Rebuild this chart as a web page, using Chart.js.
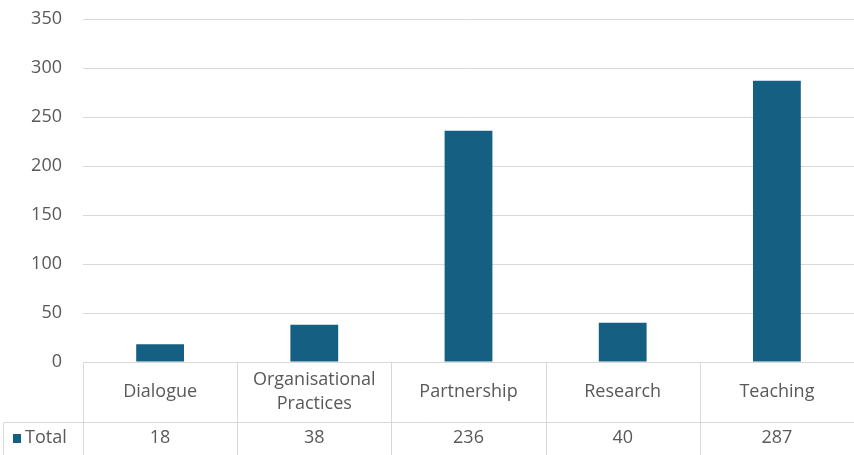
<!DOCTYPE html>
<html>
<head>
  <meta charset="UTF-8">
  <title>Total by Category</title>
  <script src="https://cdn.jsdelivr.net/npm/chart.js"></script>
  <style>
    html, body { margin: 0; padding: 0; background: #fff; }
  </style>
</head>
<body>
  <canvas id="chart" width="854" height="455"></canvas>

  <script>
    // data
    const categories = ['Dialogue', ['Organisational', 'Practices'], 'Partnership', 'Research', 'Teaching'];
    const totals = [18, 38, 236, 40, 287];
    const seriesName = 'Total';
    const yTicks = [0, 50, 100, 150, 200, 250, 300, 350];

    const barColor = '#156082';
    const textColor = '#595959';
    const lineColor = '#d9d9d9';
    const fontFamily = "'Open Sans', sans-serif";

    // draws the data table under the plot (borders, legend key and the Total row)
    const dataTable = {
      id: 'dataTable',
      afterDraw(chart) {
        const ctx = chart.ctx;
        const x = chart.scales.x;
        const area = chart.chartArea;
        const rowTop = area.bottom;
        const rowMid = 422.5;
        const rowEnd = chart.height;
        const left = 3.5;

        ctx.save();
        ctx.strokeStyle = lineColor;
        ctx.lineWidth = 1;
        ctx.beginPath();
        // row separator
        ctx.moveTo(left, rowMid);
        ctx.lineTo(area.right, rowMid);
        // left edge of the legend cell
        ctx.moveTo(left, rowMid);
        ctx.lineTo(left, rowEnd);
        // column borders
        for (let i = 0; i <= totals.length; i++) {
          let px;
          if (i < totals.length) px = x.getPixelForValue(i) - (x.getPixelForValue(1) - x.getPixelForValue(0)) / 2;
          else px = area.right - 0.5;
          px = Math.round(px) + 0.5;
          ctx.moveTo(px, rowTop);
          ctx.lineTo(px, rowEnd);
        }
        ctx.stroke();

        // legend key + series name
        ctx.fillStyle = barColor;
        ctx.fillRect(13, 434, 8, 9);
        ctx.fillStyle = textColor;
        ctx.font = '18px ' + fontFamily;
        ctx.textBaseline = 'middle';
        ctx.textAlign = 'left';
        ctx.fillText(seriesName, 25, 438);

        // values
        ctx.textAlign = 'center';
        totals.forEach((v, i) => {
          ctx.fillText(String(v), x.getPixelForValue(i), 438);
        });
        ctx.restore();
      }
    };

    new Chart(document.getElementById('chart'), {
      type: 'bar',
      data: {
        labels: categories,
        datasets: [{
          label: seriesName,
          data: totals,
          backgroundColor: barColor,
          barPercentage: 0.31,
          categoryPercentage: 1
        }]
      },
      options: {
        responsive: false,
        animation: false,
        layout: { padding: { top: 19, right: 0, left: 0, bottom: 0 } },
        plugins: {
          legend: { display: false },
          tooltip: { enabled: false }
        },
        scales: {
          x: {
            grid: { display: false },
            border: { color: lineColor },
            ticks: {
              color: textColor,
              font: { family: fontFamily, size: 18, lineHeight: 1.35 },
              padding: 10,
              crossAlign: 'center',
              maxRotation: 0,
              autoSkip: false
            },
            afterFit(scale) {
              scale.height = 93;
              scale.paddingLeft = 0;
              scale.paddingRight = 0;
            }
          },
          y: {
            min: 0,
            max: 350,
            afterBuildTicks(scale) { scale.ticks = yTicks.map(v => ({ value: v })); },
            grid: { color: lineColor, drawTicks: false },
            border: { display: false },
            ticks: {
              color: textColor,
              font: { family: fontFamily, size: 18 },
              padding: 21
            },
            afterFit(scale) {
              scale.width = 83;
              scale.paddingTop = 0;
              scale.paddingBottom = 0;
            }
          }
        }
      },
      plugins: [dataTable]
    });
  </script>
</body>
</html>
